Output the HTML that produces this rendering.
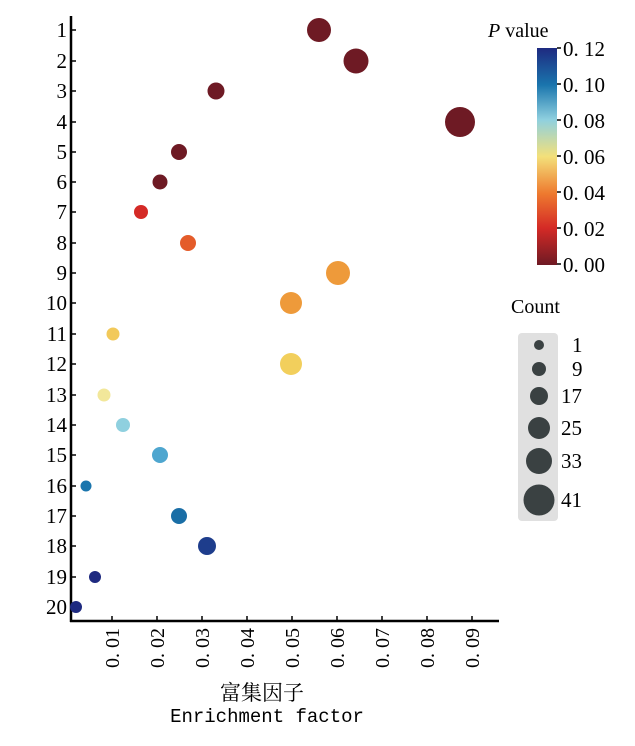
<!DOCTYPE html><html><head><meta charset="utf-8"><style>body{margin:0;background:#fff}</style></head><body>
<svg width="635" height="741" xmlns="http://www.w3.org/2000/svg" font-family="Liberation Serif, Noto Serif CJK SC, serif">
<defs><linearGradient id="g" x1="0" y1="1" x2="0" y2="0">
<stop offset="0" stop-color="#6e1a24"/><stop offset="0.17" stop-color="#d42a26"/><stop offset="0.33" stop-color="#ee7a2f"/><stop offset="0.5" stop-color="#f3e07a"/><stop offset="0.67" stop-color="#8fd0df"/><stop offset="0.83" stop-color="#1a75ad"/><stop offset="1" stop-color="#1e2a80"/></linearGradient></defs>
<g stroke="#000" stroke-width="2.5"><line x1="71" y1="16" x2="71" y2="622"/><line x1="70" y1="621" x2="499" y2="621"/></g>
<g stroke="#000" stroke-width="1.5">
<line x1="71" y1="30" x2="76" y2="30"/><line x1="71" y1="61" x2="76" y2="61"/><line x1="71" y1="91" x2="76" y2="91"/><line x1="71" y1="122" x2="76" y2="122"/><line x1="71" y1="152" x2="76" y2="152"/><line x1="71" y1="182" x2="76" y2="182"/><line x1="71" y1="212" x2="76" y2="212"/><line x1="71" y1="243" x2="76" y2="243"/><line x1="71" y1="273" x2="76" y2="273"/><line x1="71" y1="303" x2="76" y2="303"/><line x1="71" y1="334" x2="76" y2="334"/><line x1="71" y1="364" x2="76" y2="364"/><line x1="71" y1="395" x2="76" y2="395"/><line x1="71" y1="425" x2="76" y2="425"/><line x1="71" y1="455" x2="76" y2="455"/><line x1="71" y1="486" x2="76" y2="486"/><line x1="71" y1="516" x2="76" y2="516"/><line x1="71" y1="546" x2="76" y2="546"/><line x1="71" y1="577" x2="76" y2="577"/><line x1="71" y1="607" x2="76" y2="607"/>
<line x1="112" y1="616" x2="112" y2="621"/><line x1="157" y1="616" x2="157" y2="621"/><line x1="202" y1="616" x2="202" y2="621"/><line x1="247" y1="616" x2="247" y2="621"/><line x1="292" y1="616" x2="292" y2="621"/><line x1="337" y1="616" x2="337" y2="621"/><line x1="382" y1="616" x2="382" y2="621"/><line x1="427" y1="616" x2="427" y2="621"/><line x1="472" y1="616" x2="472" y2="621"/>
</g>
<g font-size="21" text-anchor="end">
<text x="67" y="37">1</text><text x="67" y="68">2</text><text x="67" y="98">3</text><text x="67" y="129">4</text><text x="67" y="159">5</text><text x="67" y="189">6</text><text x="67" y="219">7</text><text x="67" y="250">8</text><text x="67" y="280">9</text><text x="67" y="310">10</text><text x="67" y="341">11</text><text x="67" y="371">12</text><text x="67" y="402">13</text><text x="67" y="432">14</text><text x="67" y="462">15</text><text x="67" y="493">16</text><text x="67" y="523">17</text><text x="67" y="553">18</text><text x="67" y="584">19</text><text x="67" y="614">20</text>
</g>
<g font-size="20" text-anchor="end">
<text transform="translate(119,628) rotate(-90)">0. 01</text><text transform="translate(164,628) rotate(-90)">0. 02</text><text transform="translate(209,628) rotate(-90)">0. 03</text><text transform="translate(254,628) rotate(-90)">0. 04</text><text transform="translate(299,628) rotate(-90)">0. 05</text><text transform="translate(344,628) rotate(-90)">0. 06</text><text transform="translate(389,628) rotate(-90)">0. 07</text><text transform="translate(434,628) rotate(-90)">0. 08</text><text transform="translate(479,628) rotate(-90)">0. 09</text>
</g>
<text x="262" y="700" font-size="21" text-anchor="middle">富集因子</text>
<text x="267" y="722" font-size="19" text-anchor="middle" font-family="Liberation Mono, monospace">Enrichment factor</text>
<circle cx="319" cy="30" r="12" fill="#6e1a24"/><circle cx="356" cy="61" r="12.5" fill="#6e1a24"/><circle cx="216" cy="91" r="8.5" fill="#6e1a24"/><circle cx="460" cy="122" r="15" fill="#6e1a24"/><circle cx="179" cy="152" r="8" fill="#6e1a24"/><circle cx="160" cy="182" r="7.5" fill="#6e1a24"/><circle cx="141" cy="212" r="7" fill="#d42a26"/><circle cx="188" cy="243" r="8" fill="#e45c2a"/><circle cx="338" cy="273" r="12" fill="#ee9a3a"/><circle cx="291" cy="303" r="11" fill="#ee9a3a"/><circle cx="113" cy="334" r="6.5" fill="#f2c95a"/><circle cx="291" cy="364" r="11" fill="#f2cf5c"/><circle cx="104" cy="395" r="6.5" fill="#f2e79a"/><circle cx="123" cy="425" r="7" fill="#8fd0df"/><circle cx="160" cy="455" r="8" fill="#4ea6cf"/><circle cx="86" cy="486" r="5.5" fill="#1a75ad"/><circle cx="179" cy="516" r="8" fill="#1a6ea6"/><circle cx="207" cy="546" r="9" fill="#1e3d8c"/><circle cx="95" cy="577" r="6" fill="#1e2a80"/><circle cx="76" cy="607" r="6" fill="#1e2a80"/>
<text x="488" y="37" font-size="20"><tspan font-style="italic">P</tspan> value</text>
<rect x="537" y="48" width="20" height="217" fill="url(#g)"/>
<g stroke="#000" stroke-width="1.5"><line x1="557" y1="48" x2="561" y2="48"/><line x1="557" y1="84" x2="561" y2="84"/><line x1="557" y1="120" x2="561" y2="120"/><line x1="557" y1="156" x2="561" y2="156"/><line x1="557" y1="192" x2="561" y2="192"/><line x1="557" y1="228" x2="561" y2="228"/><line x1="557" y1="264" x2="561" y2="264"/></g>
<g font-size="21"><text x="563" y="56">0. 12</text><text x="563" y="92">0. 10</text><text x="563" y="128">0. 08</text><text x="563" y="164">0. 06</text><text x="563" y="200">0. 04</text><text x="563" y="236">0. 02</text><text x="563" y="272">0. 00</text></g>
<text x="511" y="313" font-size="20">Count</text>
<rect x="518" y="333" width="40" height="188" rx="4" fill="#e0e0e0"/>
<g fill="#3a4142"><circle cx="539" cy="345" r="5"/><circle cx="539" cy="369" r="7"/><circle cx="539" cy="396" r="9"/><circle cx="539" cy="428" r="11"/><circle cx="539" cy="461" r="13"/><circle cx="539" cy="500" r="15.5"/></g>
<g font-size="21"><text x="572" y="352">1</text><text x="572" y="376">9</text><text x="561" y="403">17</text><text x="561" y="435">25</text><text x="561" y="468">33</text><text x="561" y="507">41</text></g>
</svg></body></html>
